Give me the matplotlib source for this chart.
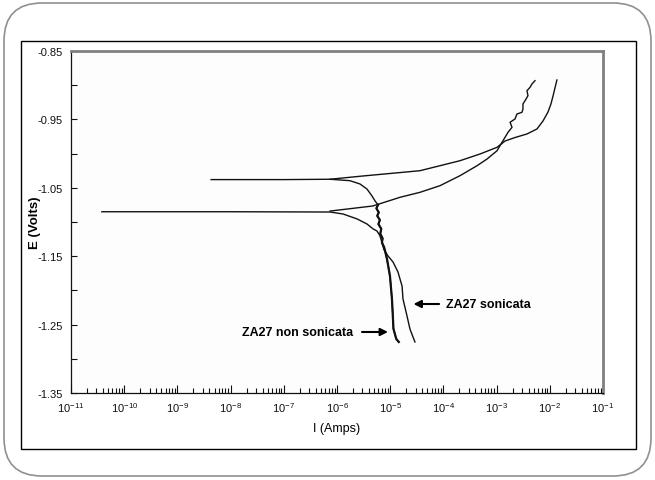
import numpy as np
import matplotlib
matplotlib.use("Agg")
import matplotlib.pyplot as plt
from matplotlib.patches import FancyBboxPatch, Rectangle
from matplotlib.ticker import LogLocator, FixedLocator, FormatStrFormatter, NullFormatter

plt.rcParams["font.family"] = ["Liberation Sans", "DejaVu Sans"]
plt.rcParams["mathtext.fontset"] = "custom"
plt.rcParams["mathtext.rm"] = "Liberation Sans"
plt.rcParams["axes.unicode_minus"] = False

# ZA27 non sonicata: cathodic branch (Ecorr ~ -1.038 V)
nons_cat_i = [4.3e-9, 1.0e-7, 7.4e-7, 1.75e-6, 2.7e-6, 3.66e-6, 4.55e-6, 5.2e-6,
              5.9e-6, 5.5e-6, 6.1e-6, 5.7e-6, 6.4e-6, 6.0e-6, 6.8e-6, 6.5e-6,
              7.2e-6, 7.0e-6, 7.7e-6, 8.7e-6, 9.9e-6, 1.08e-5, 1.12e-5, 1.15e-5,
              1.3e-5, 1.45e-5]
nons_cat_e = [-1.038, -1.038, -1.0375, -1.0396, -1.0444, -1.0518, -1.062, -1.0693,
              -1.075, -1.080, -1.086, -1.091, -1.097, -1.103, -1.110, -1.117,
              -1.124, -1.130, -1.137, -1.154, -1.179, -1.213, -1.237, -1.256,
              -1.271, -1.2754]

# ZA27 non sonicata: anodic branch
nons_an_i = [7.4e-7, 3.1e-6, 1.4e-5, 3.63e-5, 8.63e-5, 2.05e-4, 4.87e-4, 1.02e-3,
             1.44e-3, 2.22e-3, 3.72e-3, 5.74e-3, 7.45e-3, 9.25e-3, 1.05e-2,
             1.15e-2, 1.25e-2, 1.36e-2]
nons_an_e = [-1.0375, -1.0327, -1.028, -1.025, -1.0177, -1.0104, -1.0006, -0.9908,
             -0.9816, -0.9765, -0.9713, -0.964, -0.9523, -0.9392, -0.9275,
             -0.9158, -0.9041, -0.8924]

# ZA27 sonicata: cathodic branch (Ecorr ~ -1.085 V)
son_cat_i = [3.8e-11, 1.0e-8, 7.4e-7, 1.3e-6, 2.4e-6, 3.66e-6, 4.75e-6, 5.65e-6,
             6.4e-6, 7.0e-6, 7.6e-6, 9.1e-6, 1.13e-5, 1.4e-5, 1.67e-5, 1.74e-5,
             2.07e-5, 2.35e-5, 2.68e-5, 2.92e-5]
son_cat_e = [-1.085, -1.085, -1.0854, -1.0883, -1.0956, -1.1029, -1.110, -1.1132,
             -1.120, -1.130, -1.140, -1.1497, -1.1585, -1.1731, -1.1936, -1.2126,
             -1.2374, -1.2564, -1.268, -1.2754]

# ZA27 sonicata: anodic branch
son_an_i = [7.4e-7, 4.7e-6, 1.53e-5, 3.63e-5, 8.63e-5, 2.05e-4, 4.29e-4, 6.61e-4,
            1.02e-3, 1.16e-3, 1.32e-3, 1.64e-3, 1.95e-3, 1.79e-3, 2.22e-3, 2.41e-3,
            3.0e-3, 3.13e-3, 3.13e-3, 3.42e-3, 3.89e-3, 3.72e-3, 4.25e-3, 4.62e-3,
            5.27e-3]
son_an_e = [-1.084, -1.0766, -1.0639, -1.0566, -1.0469, -1.0323, -1.0177, -1.0079,
            -0.9958, -0.9884, -0.9811, -0.9689, -0.9615, -0.9542, -0.9494, -0.9421,
            -0.9396, -0.9348, -0.9275, -0.9227, -0.9153, -0.908, -0.9031, -0.8982,
            -0.8934]

y_major = [-1.35, -1.25, -1.15, -1.05, -0.95, -0.85]
y_minor = [-1.30, -1.20, -1.10, -1.00, -0.90]

fig = plt.figure(figsize=(6.55, 4.81), dpi=100)

# slide-style frame drawn in pixel units
bg = fig.add_axes([0, 0, 1, 1])
bg.set_xlim(0, 655)
bg.set_ylim(481, 0)
bg.axis("off")
bg.add_patch(FancyBboxPatch((4, 4), 647, 473,
                            boxstyle="round,pad=0,rounding_size=38",
                            fc="white", ec="#909090", lw=1.2))
bg.add_patch(Rectangle((21, 42), 615, 408, fill=False, ec="black", lw=1.0))

ax = fig.add_axes([71 / 655, 1 - 394 / 481, 532 / 655, 342 / 481])
ax.set_facecolor("#fdfdfd")

line_kw = dict(color="#111111", lw=1.0, solid_joinstyle="round")
ax.plot(nons_cat_i, nons_cat_e, **line_kw)
# the noisy, denser part of the non-sonicated cathodic branch reads heavier
ax.plot(nons_cat_i[8:], nons_cat_e[8:], **dict(line_kw, lw=1.6))
ax.plot(nons_an_i, nons_an_e, **line_kw)
ax.plot(son_cat_i, son_cat_e, **line_kw)
ax.plot(son_an_i, son_an_e, **line_kw)

ax.set_xscale("log")
ax.set_xlim(1e-11, 1e-1)
ax.set_ylim(-1.35, -0.85)
ax.xaxis.set_major_locator(LogLocator(base=10, numticks=20))
ax.xaxis.set_minor_locator(LogLocator(base=10, subs=np.arange(2, 10), numticks=20))
ax.xaxis.set_minor_formatter(NullFormatter())
ax.yaxis.set_major_locator(FixedLocator(y_major))
ax.yaxis.set_minor_locator(FixedLocator(y_minor))
ax.yaxis.set_major_formatter(FormatStrFormatter("%.2f"))

ax.tick_params(which="both", direction="in", top=False, right=False,
               width=0.8, colors="#111111", labelsize=8)
ax.tick_params(axis="x", which="major", length=6, pad=5)
ax.tick_params(axis="x", which="minor", length=3.5)
ax.tick_params(axis="y", which="both", length=4, pad=6)

for side in ("top", "right"):
    ax.spines[side].set_color("#808080")
    ax.spines[side].set_linewidth(2.0)
for side in ("left", "bottom"):
    ax.spines[side].set_color("#111111")
    ax.spines[side].set_linewidth(0.9)

ax.set_ylabel("E (Volts)", fontsize=9.5, fontweight="bold")
ax.yaxis.set_label_coords(-0.057, 0.5)
ax.set_xlabel("I (Amps)", fontsize=9)
ax.xaxis.set_label_coords(0.5, -0.085)

arrow_kw = dict(arrowstyle="-|>", color="black", lw=1.5, mutation_scale=11,
                shrinkA=0, shrinkB=0)
ax.annotate("", xy=(2.74e-5, -1.2199), xytext=(8.3e-5, -1.2199), arrowprops=arrow_kw)
ax.text(1.12e-4, -1.2199, "ZA27 sonicata", fontsize=9, fontweight="bold",
        ha="left", va="center")
ax.annotate("", xy=(9.1e-6, -1.2608), xytext=(2.95e-6, -1.2608), arrowprops=arrow_kw)
ax.text(2.0e-6, -1.2608, "ZA27 non sonicata", fontsize=9, fontweight="bold",
        ha="right", va="center")

fig.savefig("out.png", dpi=100)
